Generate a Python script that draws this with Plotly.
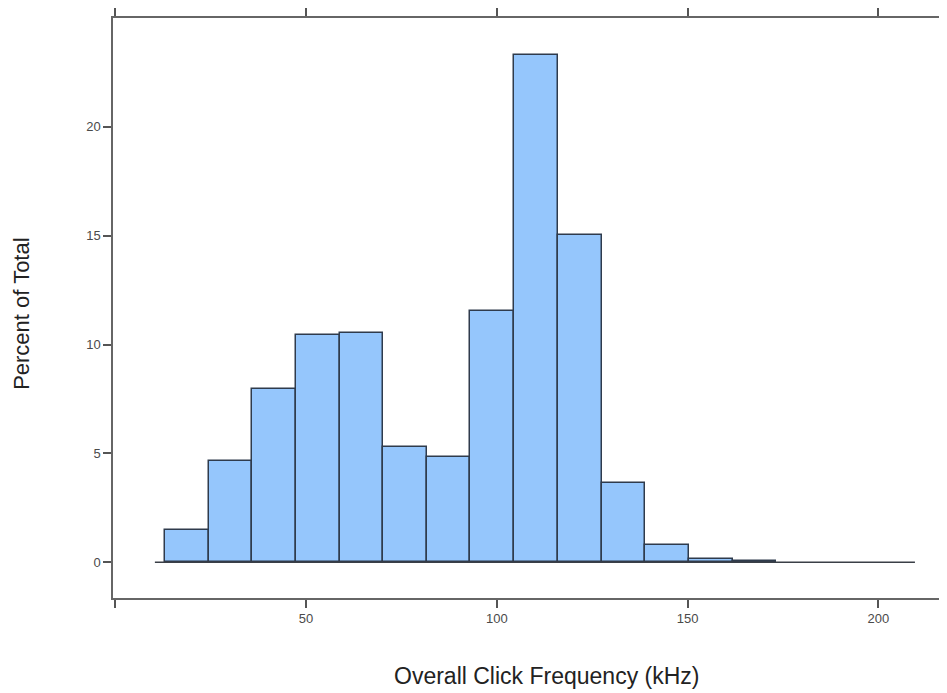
import plotly.graph_objects as go

# Histogram bins (kHz)
bin_edges = [13.0, 24.5, 35.9, 47.4, 58.8, 70.2, 81.7, 93.1, 104.6, 116.0,
             127.5, 138.9, 150.3, 161.8, 173.2]
percent = [1.5, 4.65, 7.95, 10.45, 10.55, 5.3, 4.85, 11.52, 23.3, 15.03,
           3.65, 0.8, 0.15, 0.05]
baseline_x = [10.4, 209.6]
baseline_y = [0, 0]

x_tickvals = [0, 50, 100, 150, 200]
x_ticktext = ["", "50", "100", "150", "200"]
y_tickvals = [0, 5, 10, 15, 20]
y_ticktext = ["0", "5", "10", "15", "20"]

centers = [(a + b) / 2 for a, b in zip(bin_edges[:-1], bin_edges[1:])]
widths = [b - a for a, b in zip(bin_edges[:-1], bin_edges[1:])]

fig = go.Figure()
fig.add_trace(go.Scatter(
    x=baseline_x, y=baseline_y, mode="lines",
    line=dict(color="#3a3f47", width=1.5), hoverinfo="skip", showlegend=False))
fig.add_trace(go.Bar(
    x=centers, y=percent, width=widths,
    marker=dict(color="#95c6fc", line=dict(color="#2f3b4c", width=1.5)),
    showlegend=False))

tick_font = dict(family="Liberation Sans, Arial, sans-serif", size=13, color="#4a4a4a")

fig.update_layout(
    width=947, height=693,
    margin=dict(l=105, r=0, t=6, b=103),
    paper_bgcolor="white", plot_bgcolor="white",
    bargap=0,
    xaxis=dict(range=[-0.58, 220.1], tickvals=x_tickvals, ticktext=x_ticktext,
               ticks="outside", ticklen=8, tickwidth=1.5, tickcolor="#555",
               showline=True, linecolor="#666", linewidth=1.5, mirror="ticks",
               showgrid=False, zeroline=False, tickfont=tick_font),
    yaxis=dict(range=[-1.64, 25.0], tickvals=y_tickvals, ticktext=y_ticktext,
               ticks="outside", ticklen=8, tickwidth=1.5, tickcolor="#555",
               showline=True, linecolor="#666", linewidth=1.5, mirror=False,
               showgrid=False, zeroline=False, tickfont=tick_font),
    annotations=[
        dict(text="Overall Click Frequency (kHz)", xref="paper", yref="paper",
             x=0.515, y=-0.134, xanchor="center", yanchor="middle",
             showarrow=False,
             font=dict(family="Liberation Sans, Arial, sans-serif", size=23, color="#222")),
        dict(text="Percent of Total", xref="paper", yref="paper",
             x=-0.108, y=0.49, xanchor="center", yanchor="middle", textangle=-90,
             showarrow=False,
             font=dict(family="Liberation Sans, Arial, sans-serif", size=22, color="#222")),
    ],
)

fig.write_html("out.html")
